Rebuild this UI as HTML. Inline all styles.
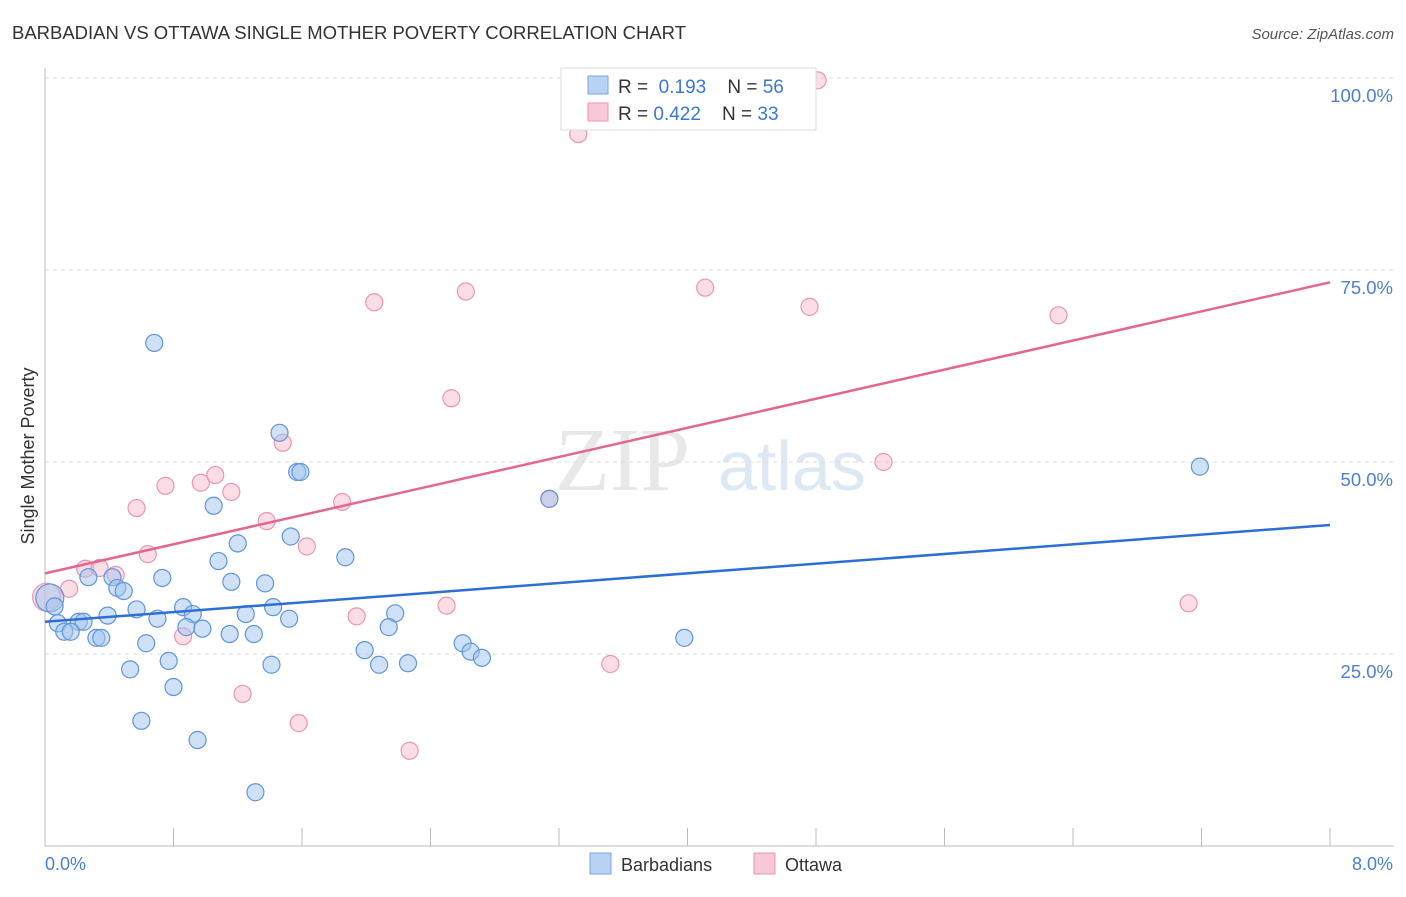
<!DOCTYPE html>
<html><head><meta charset="utf-8"><style>
body{margin:0;background:#fff;font-family:"Liberation Sans",sans-serif}
</style></head><body>
<svg id="c" width="1406" height="892" xmlns="http://www.w3.org/2000/svg">
<text x="12" y="39" font-size="18.5" fill="#333" textLength="674">BARBADIAN VS OTTAWA SINGLE MOTHER POVERTY CORRELATION CHART</text>
<text x="1394" y="39" font-size="15" fill="#555" font-style="italic" text-anchor="end">Source: ZipAtlas.com</text>
<text x="555" y="490" font-size="90" fill="#e8e8e8" font-family="Liberation Serif">ZIP</text>
<text x="718" y="490" font-size="70" fill="#dde8f5">atlas</text>
<g id="grid"></g>
<line x1="45" y1="68" x2="45" y2="846" stroke="#bbb"/>
<line x1="45" y1="846" x2="1394" y2="846" stroke="#bbb"/>
<text x="34" y="456" font-size="18" fill="#333" transform="rotate(-90 34 456)" text-anchor="middle">Single Mother Poverty</text>
<text x="45" y="870" font-size="18" fill="#4a7fd4">0.0%</text>
<text x="1393" y="870" font-size="18" fill="#4a7fd4" text-anchor="end">8.0%</text>
<g id="pts"></g>
<g id="lines"></g>
<g>
<rect x="561" y="68" width="255" height="62" fill="#fff" stroke="#ddd"/>
<rect x="588" y="76" width="20" height="18" fill="#b8d2f3" stroke="#7aa7e0"/>
<rect x="588" y="103" width="20" height="18" fill="#f9c8d6" stroke="#eb95b0"/>
<text x="618" y="93" font-size="19" fill="#333">R = <tspan fill="#3a78d8">&#160;0.193</tspan>&#160;&#160;&#160; N = <tspan fill="#3a78d8">56</tspan></text>
<text x="618" y="120" font-size="19" fill="#333">R = <tspan fill="#3a78d8">0.422</tspan>&#160;&#160;&#160; N = <tspan fill="#3a78d8">33</tspan></text>
</g>
<g>
<rect x="590" y="853" width="21" height="21" fill="#b8d2f3" stroke="#7aa7e0"/>
<text x="621" y="871" font-size="18" fill="#333">Barbadians</text>
<rect x="754" y="853" width="21" height="21" fill="#f9c8d6" stroke="#eb95b0"/>
<text x="785" y="871" font-size="18" fill="#333">Ottawa</text>
</g>
</svg>
<script>
const yTicks=[25,50,75,100];
const blueX=[0.68,1.46,1.57,1.59,1.05,1.20,1.53,1.87,1.08,0.73,0.27,0.42,0.45,0.49,1.16,1.37,0.03,0.06,0.57,0.86,0.92,0.39,0.70,1.25,1.42,1.52,2.18,0.08,0.21,0.24,0.12,0.16,0.88,0.98,1.15,1.30,2.14,0.32,0.35,0.63,2.60,3.98,1.99,2.65,2.72,0.77,1.41,2.08,2.26,0.53,0.80,0.60,0.95,1.31,7.19,3.14];
const blueY=[65.5,53.8,48.7,48.7,44.3,39.4,40.3,37.6,37.1,34.9,35.0,35.0,33.6,33.2,34.4,34.2,32.3,31.2,30.8,31.1,30.2,30.0,29.6,30.2,31.1,29.6,30.3,29.0,29.2,29.2,27.9,27.9,28.5,28.3,27.6,27.6,28.5,27.1,27.1,26.4,26.4,27.1,25.5,25.3,24.5,24.1,23.6,23.6,23.8,23.0,20.7,16.3,13.8,7.0,49.4,45.2];
const pinkX=[4.81,3.32,2.05,2.62,4.11,4.76,6.31,2.53,1.48,5.22,1.06,0.97,0.75,1.16,0.57,1.85,3.14,1.38,1.63,0.64,0.25,0.34,0.44,0.15,0.01,2.50,1.94,7.12,0.86,3.52,1.23,1.58,2.27];
const pinkY=[99.7,92.7,70.8,72.2,72.7,70.2,69.1,58.3,52.5,50.0,48.3,47.3,46.9,46.1,44.0,44.8,45.2,42.3,39.0,38.0,36.1,36.2,35.3,33.5,32.4,31.3,29.9,31.6,27.3,23.7,19.8,16.0,12.4];
const blueLine=[29.2,41.8], pinkLine=[35.5,73.4];
const X=v=>45+v/8*1285, Y=v=>846-v/25*192;
const ns="http://www.w3.org/2000/svg";
const g=document.getElementById('grid'),p=document.getElementById('pts'),l=document.getElementById('lines');
yTicks.forEach(t=>{
 const ln=document.createElementNS(ns,'line');
 
 
 ln.setAttribute('x1',45);ln.setAttribute('x2',1394);ln.setAttribute('y1',Y(t));ln.setAttribute('y2',Y(t));
 ln.setAttribute('stroke','#ddd');ln.setAttribute('stroke-dasharray','4,4');g.appendChild(ln);
 const tx=document.createElementNS(ns,'text');
 
 
 tx.setAttribute('x',1393);tx.setAttribute('y',Y(t)+24);tx.setAttribute('text-anchor','end');
 tx.setAttribute('font-size','18.5');tx.setAttribute('fill','#4a7fd4');tx.textContent=t.toFixed(1)+'%';g.appendChild(tx);
});
for(let i=1;i<=10;i++){
 const tk=document.createElementNS(ns,'line');
 
 
 const x=45+i*128.5;
 tk.setAttribute('x1',x);tk.setAttribute('x2',x);tk.setAttribute('y1',828);tk.setAttribute('y2',846);tk.setAttribute('stroke','#bbb');g.appendChild(tk);
}
function dots(xs,ys,fill,stroke,name){
 xs.forEach((v,i)=>{
  const c=document.createElementNS(ns,'circle');
  
  
  c.setAttribute('cx',X(v));c.setAttribute('cy',Y(ys[i]));c.setAttribute('r',(v<0.05)?14:8.5);
  c.setAttribute('fill',fill);c.setAttribute('stroke',stroke);c.setAttribute('stroke-width','1.2');p.appendChild(c);
 });
}
dots(pinkX,pinkY,'rgba(246,180,200,0.45)','#eb95b0','ottawa-point');
dots(blueX,blueY,'rgba(160,195,240,0.5)','#5f95db','barbadian-point');
function line(v,col,name){
 const ln=document.createElementNS(ns,'line');
 
 
 ln.setAttribute('x1',X(0));ln.setAttribute('x2',X(8));ln.setAttribute('y1',Y(v[0]));ln.setAttribute('y2',Y(v[1]));
 ln.setAttribute('stroke',col);ln.setAttribute('stroke-width','2.5');l.appendChild(ln);
}
line(blueLine,'#2d6fd6','barbadian-trendline');
line(pinkLine,'#e5668e','ottawa-trendline');
</script>
</body></html>
